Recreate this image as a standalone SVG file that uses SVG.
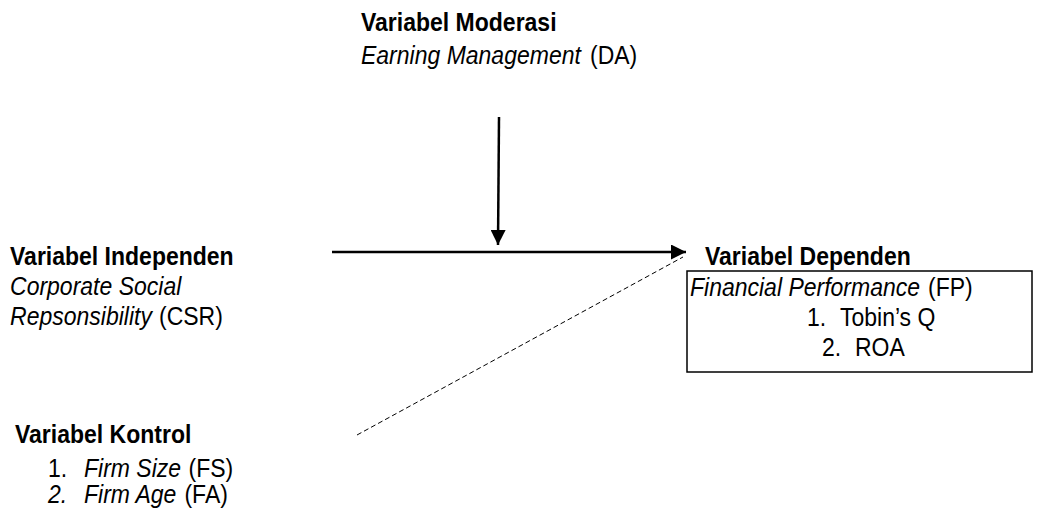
<svg xmlns="http://www.w3.org/2000/svg" width="1037" height="519" viewBox="0 0 1037 519">
<defs>
<style>
text{font-family:"Liberation Sans",Arial,sans-serif;font-size:25px;fill:#000}
.b{font-weight:bold}
.i{font-style:italic}
.ln{stroke:#000;stroke-width:2.5;fill:none}
.ds{stroke:#000;stroke-width:1;stroke-dasharray:5 3;fill:none}
</style>
<marker id="ah" viewBox="0 0 10 10" refX="10" refY="5" markerUnits="userSpaceOnUse" markerWidth="15" markerHeight="15" orient="auto">
<path d="M0,0 L10,5 L0,10 Z" fill="#000"/>
</marker>
</defs>
<rect width="1037" height="519" fill="#fff"/>
<g id="connectors">
<line class="ln" x1="332" y1="252" x2="686" y2="252" marker-end="url(#ah)"/>
<line class="ln" x1="499" y1="117" x2="498" y2="245" marker-end="url(#ah)"/>
<line class="ds" x1="357" y1="435" x2="683" y2="257"/>
</g>
<g id="moderasi" transform="scale(0.92 1)">
<text class="b" x="392.4" y="31">Variabel Moderasi</text>
<text class="i" x="392.4" y="64">Earning Management</text>
<text x="641.3" y="64">(DA)</text>
</g>
<g id="independen" transform="scale(0.92 1)">
<text class="b" x="10.9" y="265">Variabel Independen</text>
<text class="i" x="10.9" y="295">Corporate Social</text>
<text class="i" x="10.9" y="325">Repsonsibility</text>
<text x="172.8" y="325">(CSR)</text>
</g>
<g id="dependen">
<rect x="687" y="271" width="345" height="101" fill="none" stroke="#000" stroke-width="1.5"/>
<g transform="scale(0.92 1)">
<text class="b" x="766.3" y="265">Variabel Dependen</text>
<text class="i" x="750" y="296">Financial Performance</text>
<text x="1008.7" y="296">(FP)</text>
<text x="877.2" y="326">1.</text>
<text x="913" y="326">Tobin’s Q</text>
<text x="893.5" y="356">2.</text>
<text x="929.3" y="356">ROA</text>
</g>
</g>
<g id="kontrol" transform="scale(0.92 1)">
<text class="b" x="16.3" y="443">Variabel Kontrol</text>
<text x="52.2" y="477">1.</text>
<text class="i" x="91.3" y="477">Firm Size</text>
<text x="204.9" y="477">(FS)</text>
<text class="i" x="52.2" y="503">2.</text>
<text class="i" x="91.3" y="503">Firm Age</text>
<text x="200.5" y="503">(FA)</text>
</g>
</svg>
